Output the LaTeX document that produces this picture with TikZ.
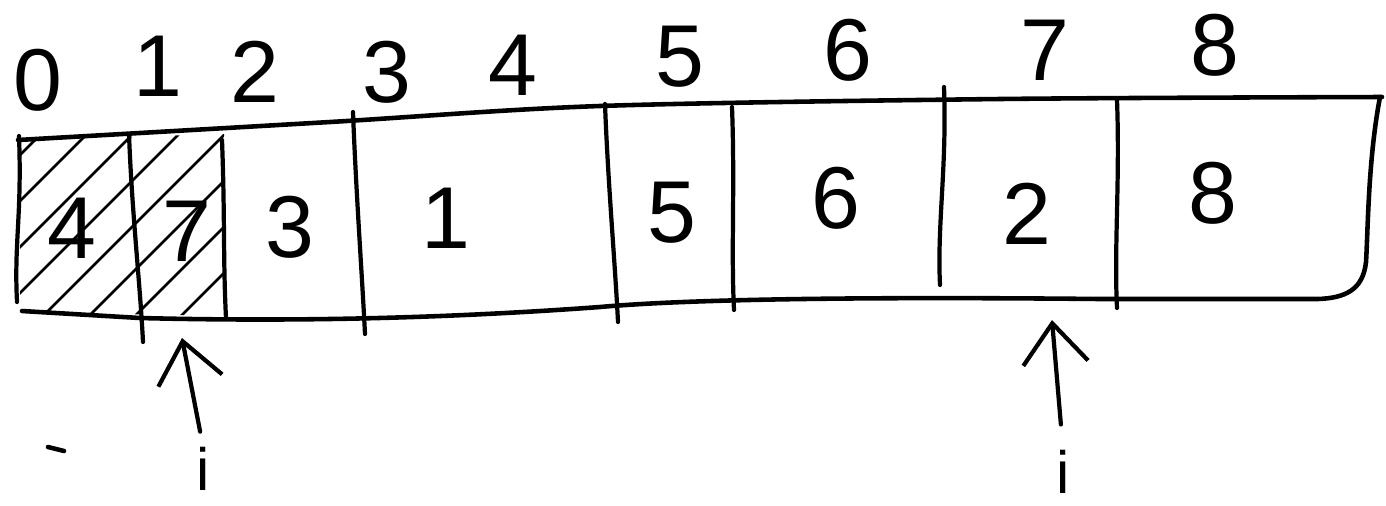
\documentclass[tikz,border=0pt]{standalone}
\usepackage{fontspec}
\setmainfont{Liberation Sans}
\usetikzlibrary{arrows.meta, calc}
\tikzset{
  ink/.style={line width=2.6pt, line cap=round, line join=round},
  divider/.style={line width=2.4pt, line cap=round},
  hatchline/.style={line width=1.5pt, line cap=round},
  digit/.style={inner sep=0pt, font=\fontsize{50}{50}\selectfont},
  ptrlabel/.style={inner sep=0pt, anchor=base, font=\fontsize{34}{34}\selectfont},
  pointer/.style={-{Straight Barb[length=8mm, width=13mm]}, line width=2.4pt, line cap=round},
}
\begin{document}
\begin{tikzpicture}[x=0.02cm, y=-0.02cm]
  \useasboundingbox (0,0) rectangle (1386,505);

  % hatching of the first two cells
  \begin{scope}
    \clip (20,140) -- (224,134) -- (226,316) -- (20,312) -- cycle;
    \foreach \k in {0,...,8}
      \draw[hatchline] (-160+\k*46,335) -- ++(250,-250);
  \end{scope}

  % array outline
  \draw[ink] plot[smooth] coordinates {(18,140) (330,122) (600,106) (1000,99) (1382,97)};
  \draw[ink] (1380,97) .. controls (1368,160) and (1368,230) .. (1366,262)
    .. controls (1363,290) and (1345,298) .. (1318,299) -- (1100,299)
    .. controls (900,297) and (700,298) .. (600,307)
    .. controls (450,318) and (300,322) .. (140,318) -- (22,311);

  % cell separators
  \foreach \xa/\ya/\xb/\yb in {19/136/17/302, 129/134/143/342, 222/140/226/318,
      353/112/365/334, 605/104/618/322, 732/107/734/310, 944/87/940/285, 1117/100/1117/308}
    \draw[divider] (\xa,\ya) .. controls (\xa+3,\ya+80) and (\xb-3,\yb-60) .. (\xb,\yb);

  % values
  \node[digit] (cell0) at (72,228) {4};
  \node[digit] (cell1) at (187,231) {7};
  \node[digit] (cell2) at (290,227) {3};
  \node[digit] (cell3) at (446,218) {1};
  \node[digit] (cell4) at (672,213) {5};
  \node[digit] (cell5) at (836,198) {6};
  \node[digit] (cell6) at (1027,214) {2};
  \node[digit] (cell7) at (1213,193) {8};

  % indices
  \node[digit] (idx0) at (38,80) {0};
  \node[digit] (idx1) at (158,66) {1};
  \node[digit] (idx2) at (255,72) {2};
  \node[digit] (idx3) at (387,72) {3};
  \node[digit] (idx4) at (513,65) {4};
  \node[digit] (idx5) at (680,57) {5};
  \node[digit] (idx6) at (848,50) {6};
  \node[digit] (idx7) at (1045,50) {7};
  \node[digit] (idx8) at (1215,45) {8};

  % pointers
  \node[ptrlabel] (ptrA) at (203,490) {i};
  \node[ptrlabel] (ptrB) at (1063,493) {i};
  \coordinate (tipA) at (182,338);
  \coordinate (tipB) at (1052,320);
  \draw[pointer, shorten <=3mm] (ptrA.north) -- (tipA);
  \draw[pointer, shorten <=5mm] (ptrB.north) -- (tipB);
  \draw[ink] (48,447) -- (64,451);
\end{tikzpicture}
\end{document}
